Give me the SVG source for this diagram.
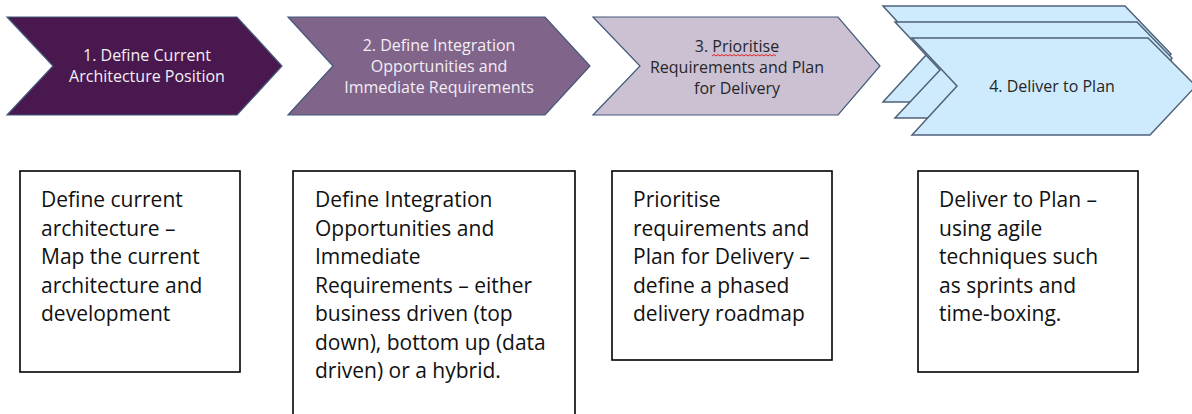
<svg xmlns="http://www.w3.org/2000/svg" width="1192" height="414" viewBox="0 0 1192 414">
  <style>
    .chev { stroke: #43597a; stroke-width: 1.2; stroke-linejoin: miter; }
    .stack { fill: #cdebfc; stroke: #4f6178; stroke-width: 1.5; stroke-linejoin: miter; }
    .ct { font-family: "Open Sans", "Liberation Sans", sans-serif; font-size: 16px; text-anchor: middle; }
    .light { fill: #f4eef5; }
    .dark { fill: #262626; }
    .box { fill: #ffffff; stroke: #000000; stroke-width: 1.6; }
    .bt { font-family: "Open Sans", "Liberation Sans", sans-serif; font-size: 21px; fill: #111111; }
    .spell { fill: none; stroke: #e02020; stroke-width: 1; }
  </style>

  <!-- process chevrons -->
  <g id="step1">
    <path class="chev" fill="#48184f" d="M7,17 L237,17 L282,66 L237,115 L7,115 L53,66 Z"/>
    <text class="ct light" x="147" y="61">1. Define Current</text>
    <text class="ct light" x="147" y="82">Architecture Position</text>
  </g>

  <g id="step2">
    <path class="chev" fill="#806489" d="M288,17 L545,17 L590,66 L545,115 L288,115 L333,66 Z"/>
    <text class="ct light" x="439" y="51">2. Define Integration</text>
    <text class="ct light" x="439" y="72">Opportunities and</text>
    <text class="ct light" x="439" y="93">Immediate Requirements</text>
  </g>

  <g id="step3">
    <path class="chev" fill="#ccc0d3" d="M593,17 L838,17 L880,66 L838,115 L593,115 L640,66 Z"/>
    <text class="ct dark" x="737" y="52">3. Prioritise</text>
    <path class="spell" d="M712,56 l2,-1.5 l2,1.5 l2,-1.5 l2,1.5 l2,-1.5 l2,1.5 l2,-1.5 l2,1.5 l2,-1.5 l2,1.5 l2,-1.5 l2,1.5 l2,-1.5 l2,1.5 l2,-1.5 l2,1.5 l2,-1.5 l2,1.5 l2,-1.5 l2,1.5 l2,-1.5 l2,1.5 l2,-1.5 l2,1.5 l2,-1.5 l2,1.5 l2,-1.5 l2,1.5 l2,-1.5 l2,1.5 l2,-1.5 l2,1.5"/>
    <text class="ct dark" x="737" y="73">Requirements and Plan</text>
    <text class="ct dark" x="737" y="94">for Delivery</text>
  </g>

  <!-- three stacked chevrons, back to front -->
  <g id="step4">
    <path class="stack" d="M883,6 L1125,6 L1171,54 L1125,102 L883,102 L927,54 Z"/>
    <path class="stack" d="M895,22 L1137,22 L1172,58 L1137,118 L895,118 L940,70 Z"/>
    <path class="stack" d="M912,38 L1148,38 L1196,86 L1150,135 L912,135 L957,86 Z"/>
    <text class="ct dark" x="1052" y="92">4. Deliver to Plan</text>
  </g>

  <!-- description boxes -->
  <g id="note1">
    <rect class="box" x="20" y="171" width="220" height="201"/>
    <text class="bt" x="41" y="207">Define current</text>
    <text class="bt" x="41" y="235.5">architecture –</text>
    <text class="bt" x="41" y="264">Map the current</text>
    <text class="bt" x="41" y="292.5">architecture and</text>
    <text class="bt" x="41" y="321">development</text>
  </g>

  <g id="note2">
    <rect class="box" x="293" y="171" width="282" height="260"/>
    <text class="bt" x="315" y="207">Define Integration</text>
    <text class="bt" x="315" y="235.5">Opportunities and</text>
    <text class="bt" x="315" y="264">Immediate</text>
    <text class="bt" x="315" y="292.5">Requirements – either</text>
    <text class="bt" x="315" y="321">business driven (top</text>
    <text class="bt" x="315" y="349.5">down), bottom up (data</text>
    <text class="bt" x="315" y="378">driven) or a hybrid.</text>
  </g>

  <g id="note3">
    <rect class="box" x="612" y="171" width="220" height="189"/>
    <text class="bt" x="633" y="207">Prioritise</text>
    <text class="bt" x="633" y="235.5">requirements and</text>
    <text class="bt" x="633" y="264">Plan for Delivery –</text>
    <text class="bt" x="633" y="292.5">define a phased</text>
    <text class="bt" x="633" y="321">delivery roadmap</text>
  </g>

  <g id="note4">
    <rect class="box" x="918" y="171" width="220" height="201"/>
    <text class="bt" x="939" y="207">Deliver to Plan –</text>
    <text class="bt" x="939" y="235.5">using agile</text>
    <text class="bt" x="939" y="264">techniques such</text>
    <text class="bt" x="939" y="292.5">as sprints and</text>
    <text class="bt" x="939" y="321">time-boxing.</text>
  </g>

  <!-- no connectors: the chevrons carry the flow -->
  <g id="connectors"/>
</svg>
